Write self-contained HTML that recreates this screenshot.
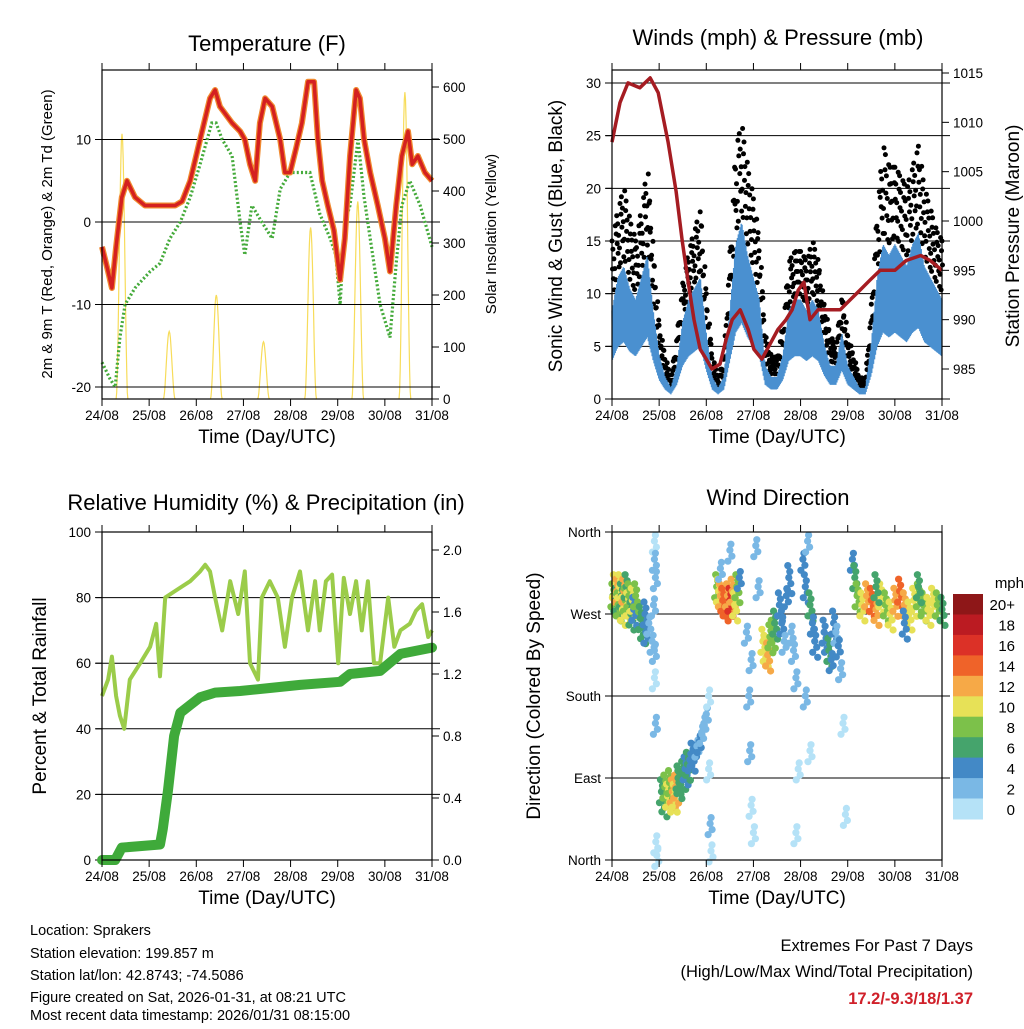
<!DOCTYPE html>
<html><head><meta charset="utf-8">
<style>
html,body{margin:0;padding:0;background:#fff;}
svg text{font-family:"Liberation Sans",Arial,sans-serif;fill:#000;}
</style></head>
<body>
<svg id="c" width="1024" height="1024" viewBox="0 0 1024 1024" xmlns="http://www.w3.org/2000/svg">
<g id="texts">
<text x="30" y="935" font-size="14.5">Location: Sprakers</text>
<text x="30" y="958" font-size="14.5">Station elevation: 199.857 m</text>
<text x="30" y="980" font-size="14.5">Station lat/lon: 42.8743; -74.5086</text>
<text x="30" y="1002" font-size="14.5">Figure created on Sat, 2026-01-31, at 08:21 UTC</text>
<text x="30" y="1024" font-size="14.5" dy="-4">Most recent data timestamp: 2026/01/31 08:15:00</text>
<text x="973" y="951" font-size="16.5" text-anchor="end">Extremes For Past 7 Days</text>
<text x="973" y="977" font-size="16.5" text-anchor="end">(High/Low/Max Wind/Total Precipitation)</text>
<text x="973" y="1004" font-size="16.5" font-weight="bold" text-anchor="end" style="fill:#d0202a">17.2/-9.3/18/1.37</text>
</g>
</svg>
<script>
// ---------- DATA ----------
const dayLabels = ["24/08","25/08","26/08","27/08","28/08","29/08","30/08","31/08"];
// Temperature (days since 24/08 00Z, degF)
const tempT = [0,0.13,0.21,0.3,0.42,0.53,0.7,0.91,1.23,1.55,1.7,1.87,2.08,2.29,2.4,2.5,2.76,2.93,3.03,3.14,3.25,3.35,3.46,3.61,3.78,3.88,3.99,4.12,4.24,4.37,4.5,4.58,4.67,4.79,4.92,5.05,5.15,5.26,5.39,5.47,5.56,5.69,5.85,6.0,6.11,6.24,6.36,6.49,6.58,6.7,6.85,7.0];
const tempV = [-3,-6,-8,-3,3,5,3,2,2,2,2.5,5,10,15,16,14,12,11,10,7,5,12,15,14,10,6,6,9,12,17,17,10,5,2,-1,-7,-2,8,16,15,10,6,2,-2,-6,2,8,11,7,8,6,5];
const dewT = [0,0.17,0.28,0.38,0.49,0.7,1.02,1.23,1.44,1.66,1.87,2.08,2.33,2.42,2.55,2.76,2.93,3.03,3.18,3.39,3.61,3.78,3.99,4.2,4.41,4.62,4.84,4.96,5.05,5.15,5.26,5.43,5.56,5.69,5.9,6.11,6.24,6.36,6.53,6.75,7.0];
const dewV = [-17,-19,-20,-14,-10,-8,-6,-5,-2,0,3,7,12,12,10,8,0,-4,2,0,-2,4,6,6,6,1,-2,-4,-10,0,2,10,3,-2,-10,-14,-5,2,5,2,-3];
const solarDay = [0,1,2,3,4,5,6];
const solarPeak = [510,130,200,110,330,380,590];
// Winds (3-hourly)
const windV = [8,11,12,10,9,11,13,8, 4,2,1,3,7,9,10,11, 6,2,1,2,8,14,16,13, 11,9,3,2,2,4,8,9, 9,8,9,8,5,3,3,6, 3,2,1,1,5,11,14,13, 14,13,12,14,15,12,11,10, 9];
const gustV = [15,18,20,17,15,18,22,14, 7,4,2,6,11,14,16,18, 10,4,2,4,14,24,26,22, 19,15,6,4,4,7,13,14, 14,13,15,13,9,6,5,10, 6,4,2,2,9,18,24,22, 22,21,20,22,24,20,18,16, 15];
const presT = [0,0.17,0.34,0.59,0.81,0.98,1.19,1.36,1.49,1.61,1.74,1.87,2.0,2.12,2.29,2.42,2.55,2.72,2.89,3.01,3.18,3.35,3.52,3.69,3.82,3.95,4.07,4.2,4.37,4.62,4.84,5.05,5.26,5.47,5.69,6.0,6.24,6.55,6.75,7.0];
const presV = [1008,1012,1014,1013.5,1014.5,1013,1008,1003,998,994,990,987,986,985,985.5,988,990,991,989,987,986,987.5,989,990,991,993,993.8,990,991,991,991,992,993,994,995,995,996,996.5,996,995];
// RH & precip
const rhT = [0,0.13,0.21,0.3,0.38,0.47,0.59,0.81,1.02,1.15,1.23,1.34,1.55,1.87,2.08,2.19,2.29,2.4,2.55,2.72,2.89,3.03,3.14,3.31,3.39,3.56,3.73,3.88,4.03,4.2,4.37,4.52,4.62,4.75,4.88,5.01,5.13,5.26,5.39,5.51,5.64,5.77,5.9,6.07,6.2,6.33,6.53,6.66,6.79,6.92,7.0];
const rhV = [50,55,62,50,44,40,55,60,65,72,56,80,82,85,88,90,88,80,70,85,75,88,60,55,80,85,80,65,80,88,70,85,70,85,87,60,86,75,85,70,85,60,60,80,65,70,72,76,78,68,70];
const prT = [0,0.28,0.42,1.23,1.29,1.4,1.53,1.66,1.87,2.08,2.4,2.93,3.56,4.2,5.05,5.26,5.9,6.33,7.0];
const prV = [0,0,0.08,0.1,0.2,0.45,0.8,0.95,1.0,1.05,1.08,1.09,1.11,1.13,1.15,1.2,1.22,1.33,1.37];
// Wind direction scatter
const wdT = [0.02,0.05,0.08,0.1,0.13,0.16,0.2,0.22,0.25,0.28,0.3,0.33,0.36,0.4,0.43,0.46,0.5,0.6,0.65,0.7,0.72,0.78,0.85,0.88,0.9,0.9,0.92,0.9,0.92,0.93,0.95,0.9,1.05,1.1,1.12,1.18,1.22,1.28,1.32,1.35,1.4,1.42,1.5,1.55,1.6,1.65,1.7,1.75,1.8,1.85,1.9,1.95,2.0,2.05,2.08,2.1,2.05,2.22,2.26,2.3,2.35,2.4,2.45,2.5,2.55,2.6,2.65,2.7,2.3,2.5,2.85,2.9,2.92,2.95,3.0,3.05,3.1,2.95,3.2,3.25,3.3,3.35,3.4,3.45,3.55,3.6,3.65,3.7,3.75,3.8,3.85,3.9,3.95,3.9,4.05,4.1,4.15,4.2,4.25,4.3,4.1,4.2,4.5,4.55,4.6,4.65,4.7,4.75,4.8,4.85,4.9,4.95,5.1,5.15,5.2,5.3,5.4,5.5,5.6,5.7,5.8,5.9,6.0,6.1,6.2,6.3,6.4,6.5,6.6,6.7,6.8,6.9,7.0,5.6,6.2,6.5];
const wdD = [290,300,285,295,280,300,290,275,295,285,300,280,290,270,285,275,290,265,255,270,250,260,240,280,350,330,310,200,150,20,5,230,75,65,80,70,85,75,70,80,90,85,95,100,105,110,115,120,125,130,140,150,160,100,40,10,180,300,295,290,285,280,290,285,295,280,300,310,320,340,250,180,120,60,30,345,300,220,240,230,225,245,250,260,280,260,240,290,310,250,230,200,100,30,330,300,350,280,260,240,180,120,250,240,230,220,260,250,235,210,150,50,330,310,290,280,290,285,275,290,280,270,285,295,280,270,285,290,280,275,285,280,275,300,260,300];
const wdS = [8,10,6,12,9,11,7,10,13,8,6,11,9,7,10,5,8,6,7,5,4,3,2,3,1,2,2,1,2,1,1,2,6,7,9,10,8,12,11,13,7,6,6,5,7,4,5,4,3,4,3,3,2,1,2,1,1,8,10,12,14,15,13,16,12,10,8,4,3,3,3,2,2,1,1,2,3,3,10,11,12,9,8,6,5,4,3,4,5,3,2,2,1,1,4,5,3,6,4,5,2,1,5,4,6,4,5,3,4,2,1,1,4,6,8,10,12,14,13,11,9,10,12,14,13,11,10,9,8,10,11,8,6,6,5,7];
const cbLabels = ["20+","18","16","14","12","10","8","6","4","2","0"];
const cbColors = ["#8e1718","#bb1b22","#dc3127","#ef6329","#f6a947","#e7e157","#7cc14a","#45a46c","#4389c6","#7ab8e5","#b5e2f7"];

// ---------- HELPERS ----------
const NS="http://www.w3.org/2000/svg";
const svg=document.getElementById('c');
function mk(tag,attrs,parent){const e=document.createElementNS(NS,tag);for(const k in attrs)e.setAttribute(k,attrs[k]);(parent||svg).appendChild(e);return e;}
function txt(x,y,s,size,anchor,parent,rot){const t=mk('text',{x:x,y:y,'font-size':size,'text-anchor':anchor||'middle'},parent);if(rot)t.setAttribute('transform','rotate(-90 '+x+' '+y+')');t.textContent=s;return t;}
function lin(d0,d1,r0,r1){return v=>r0+(v-d0)*(r1-r0)/(d1-d0);}
function path(xs,ys,fx,fy){return xs.map((t,i)=>(i?'L':'M')+fx(t).toFixed(1)+','+fy(ys[i]).toFixed(1)).join('');}
function interp(xs,ys,t){for(let i=1;i<xs.length;i++){if(t<=xs[i]){const f=(t-xs[i-1])/(xs[i]-xs[i-1]);return ys[i-1]+f*(ys[i]-ys[i-1]);}}return ys[ys.length-1];}

function frame(g,L,R,T,B,name){
  const fx=lin(0,7,L,R);
  dayLabels.forEach((d,i)=>{const x=fx(i);
    const tb=mk('line',{x1:x,y1:B,x2:x,y2:B+7,stroke:'#000','stroke-width':1},g);
    
    mk('line',{x1:x,y1:T,x2:x,y2:T-7,stroke:'#000','stroke-width':1},g);
    const t=txt(x,B+21,d,13.5,'middle',g);
    
  });
  const r=mk('rect',{x:L,y:T,width:R-L,height:B-T,fill:'none',stroke:'#000','stroke-width':1.2},g);
  
  const xt=txt((L+R)/2,B+44,'Time (Day/UTC)',19,'middle',g);
  
}
function yAxis(g,side,X,vals,labels,fy,grid,L,R,name){
  vals.forEach((v,i)=>{const y=fy(v);
    const dir=side==='left'?-1:1;
    mk('line',{x1:X,y1:y,x2:X+dir*7,y2:y,stroke:'#000','stroke-width':1},g);
    if(grid){const gl=mk('line',{x1:L-6,y1:y,x2:R+8,y2:y,stroke:'#000','stroke-width':1},g);
      }
    const t=txt(side==='left'?X-11:X+11,y+5,labels[i],13.5,side==='left'?'end':'start',g);
    
  });
}

// ---------- PANEL 1: Temperature ----------
(function(){
  const L=102,R=432,T=70,B=399;
  const g=mk('g',{});
  const fx=lin(0,7,L,R), fy=lin(0,10,222,139.5), fs=lin(0,600,399,87);
  const sg=mk('g',{},g);
  solarDay.forEach((d,i)=>{let p='';for(let k=0;k<=20;k++){const t=d+0.3+0.25*k/20;const v=solarPeak[i]*Math.pow(Math.sin(Math.PI*k/20),2);p+=(k?'L':'M')+fx(t).toFixed(1)+','+fs(v).toFixed(1);}
    const e=mk('path',{d:p,fill:'none',stroke:'#f7dc5a','stroke-width':1.2},sg);});
  yAxis(g,'left',L,[10,0,-10,-20],['10','0','-10','-20'],fy,true,L,R,'temp');
  yAxis(g,'right',R,[0,100,200,300,400,500,600],['0','100','200','300','400','500','600'],fs,false,L,R,'solar');
  const dp=mk('path',{d:path(dewT,dewV,fx,fy),fill:'none',stroke:'#44aa3a','stroke-width':3.2,'stroke-dasharray':'2 2.2'},g);
  
  const o=mk('path',{d:path(tempT,tempV,fx,fy),fill:'none',stroke:'#f08a30','stroke-width':6,'stroke-linejoin':'round'},g);
  
  const rp=mk('path',{d:path(tempT,tempV,fx,fy),fill:'none',stroke:'#d42020','stroke-width':3.5,'stroke-linejoin':'round'},g);
  
  frame(g,L,R,T,B,'temperature');
  const t=txt(267,51,'Temperature (F)',22,'middle',g);
  const a=txt(52,234,'2m & 9m T (Red, Orange) & 2m Td (Green)',15,'middle',g,true);
  const b=txt(496,234,'Solar Insolation (Yellow)',15,'middle',g,true);
})();

// ---------- PANEL 2: Winds ----------
(function(){
  const L=612,R=942,T=70,B=399;
  const g=mk('g',{});
  const fx=lin(0,7,L,R), fy=lin(0,30,399,83), fp=lin(985,1015,369,73);
  yAxis(g,'left',L,[0,5,10,15,20,25,30],['0','5','10','15','20','25','30'],fy,true,L,R,'wind');
  yAxis(g,'right',R,[985,990,995,1000,1005,1010,1015],['985','990','995','1000','1005','1010','1015'],fp,false,L,R,'pressure');
  const wT=windV.map((v,i)=>i*0.125);
  const gg=mk('g',{},g);
  const fr=[1,0.82,0.62,0.42,0.2];
  for(let k=0;k<=350;k++){const t=k*0.02;const gv=interp(wT,gustV,t);const wv=interp(wT,windV,t);
    const f=fr[k%5];const v=wv+(gv-wv)*f;
    mk('circle',{cx:fx(t).toFixed(1),cy:fy(v).toFixed(1),r:2.5,fill:'#000'},gg);
    const f2=fr[(k+2)%5];mk('circle',{cx:fx(t+0.01).toFixed(1),cy:fy(wv+(gv-wv)*f2).toFixed(1),r:2.5,fill:'#000'},gg);
  }
  let p='';for(let k=0;k<=700;k++){const t=k*0.01;const v=interp(wT,windV,t);const lo=v*((k%2)?0.45:1.05);p+=(k?'L':'M')+fx(t).toFixed(1)+','+fy(lo).toFixed(1);}
  const bl=mk('path',{d:p,fill:'none',stroke:'#4a90d0','stroke-width':1.3},g);
  const pp=mk('path',{d:path(presT,presV,fx,fp),fill:'none',stroke:'#a51c22','stroke-width':3.5,'stroke-linejoin':'round'},g);
  
  frame(g,L,R,T,B,'winds');
  const t=txt(778,45,'Winds (mph) & Pressure (mb)',22,'middle',g);
  const a=txt(562,236,'Sonic Wind & Gust (Blue, Black)',19,'middle',g,true);
  const b=txt(1019,236,'Station Pressure (Maroon)',19,'middle',g,true);
})();

// ---------- PANEL 3: RH & Precip ----------
(function(){
  const L=102,R=432,T=532,B=860;
  const g=mk('g',{});
  const fx=lin(0,7,L,R), fy=lin(0,100,860,532), fr=lin(0,0.4,860,798);
  yAxis(g,'left',L,[0,20,40,60,80,100],['0','20','40','60','80','100'],fy,false,L,R,'rh');
  [20,40,60,80].forEach(v=>{const gl=mk('line',{x1:L-6,y1:fy(v),x2:R+8,y2:fy(v),stroke:'#000','stroke-width':1},g);});
  yAxis(g,'right',R,[0,0.4,0.8,1.2,1.6,2.0],['0.0','0.4','0.8','1.2','1.6','2.0'],fr,false,L,R,'precip');
  const rh=mk('path',{d:path(rhT,rhV,fx,fy),fill:'none',stroke:'#9bcc4a','stroke-width':4,'stroke-linejoin':'round'},g);
  
  const pr=mk('path',{d:path(prT,prV,fx,fr),fill:'none',stroke:'#3faa3a','stroke-width':10,'stroke-linejoin':'round','stroke-linecap':'round'},g);
  
  frame(g,L,R,T,B,'humidity');
  const t=txt(266,510,'Relative Humidity (%) & Precipitation (in)',22,'middle',g);
  const a=txt(46,696,'Percent & Total Rainfall',19,'middle',g,true);
})();

// ---------- PANEL 4: Wind Direction ----------
(function(){
  const L=612,R=942,T=532,B=860;
  const g=mk('g',{});
  const fx=lin(0,7,L,R), fy=lin(0,360,860,532);
  yAxis(g,'left',L,[0,90,180,270,360],['North','East','South','West','North'],fy,false,L,R,'direction');
  [90,180,270].forEach(v=>{const gl=mk('line',{x1:L-6,y1:fy(v),x2:R+8,y2:fy(v),stroke:'#000','stroke-width':1},g);});
  const sg=mk('g',{},g);
  const offs=[[0,0],[2,6],[-2,11],[1,-6],[3,16],[-1,-12]];
  wdT.forEach((t,i)=>{const s=wdS[i];let idx=10-Math.min(10,Math.floor(s/2));
    const c=mk('circle',{cx:fx(t).toFixed(1),cy:fy(wdD[i]).toFixed(1),r:3.6,fill:cbColors[idx]},sg);
    
    const n=s>=5?6:4;
    for(let j=1;j<n;j++){const o=offs[j];mk('circle',{cx:(fx(t)+o[0]).toFixed(1),cy:(fy(wdD[i])+o[1]).toFixed(1),r:3.6,fill:cbColors[idx]},sg);}
  });
  frame(g,L,R,T,B,'wind-direction');
  const t=txt(778,505,'Wind Direction',22,'middle',g);
  const a=txt(540,696,'Direction (Colored By Speed)',19,'middle',g,true);
  const cb=mk('g',{},g);
  const h=(819-594)/cbLabels.length;
  cbLabels.forEach((l,i)=>{const r=mk('rect',{x:953,y:(594+i*h).toFixed(1),width:30,height:(h+0.5).toFixed(1),fill:cbColors[i]},cb);
    
    const tl=txt(1015,594+i*h+h/2+6,l,15,'end',cb);});
  const m=txt(1024,588,'mph',15,'end',cb);
})();
</script>
</body></html>
